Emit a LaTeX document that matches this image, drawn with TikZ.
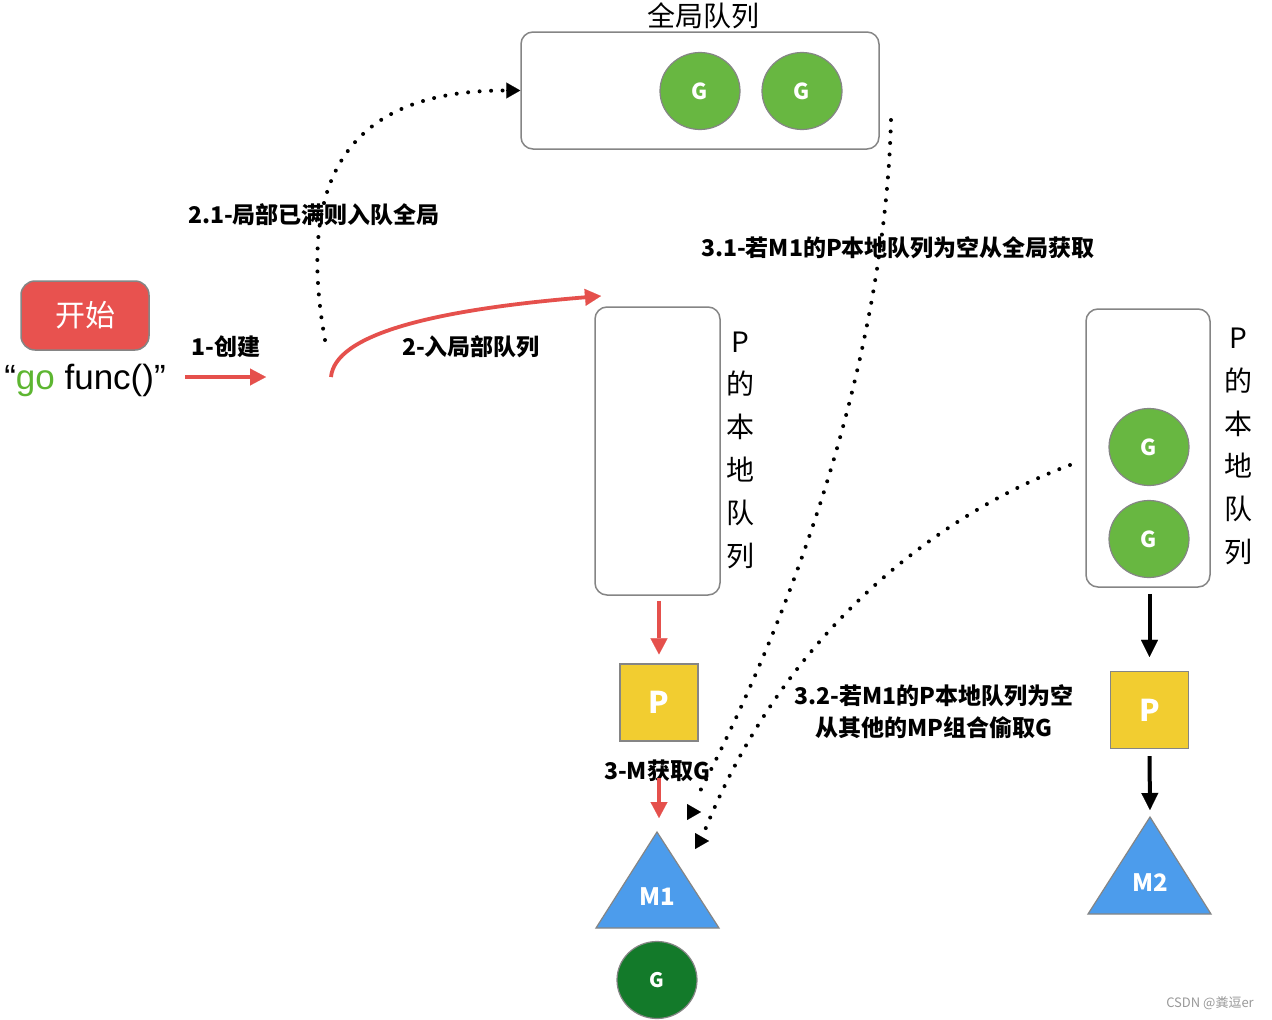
\documentclass[tikz,border=0pt]{standalone}
\usepackage{fontspec}
\setmainfont{Noto Sans CJK SC}
\newfontfamily\gofont{Liberation Sans}
\usetikzlibrary{arrows.meta,shapes.geometric}
\definecolor{btnred}{HTML}{E8524F}
\definecolor{arrred}{HTML}{E5504C}
\definecolor{ggreen}{HTML}{68B741}
\definecolor{dgreen}{HTML}{137A2A}
\definecolor{pyellow}{HTML}{F2CD30}
\definecolor{mblue}{HTML}{4C9CEC}
\definecolor{bordergray}{HTML}{858585}
\definecolor{gogreen}{HTML}{5DB631}
\begin{document}
\begin{tikzpicture}[x=1pt,y=-1pt,
  box/.style={draw=bordergray, line width=1.5pt, rounded corners=12pt, fill=white, inner sep=0pt},
  gnode/.style={ellipse, draw=bordergray, line width=1.2pt, fill=ggreen, minimum width=80pt, minimum height=77pt, inner sep=0pt, text=white, font=\fontsize{22}{26}\selectfont\bfseries},
  dgnode/.style={gnode, fill=dgreen, font=\fontsize{20}{24}\selectfont\bfseries},
  pnode/.style={draw=bordergray, line width=1.2pt, fill=pyellow, minimum width=78pt, minimum height=77pt, inner sep=0pt, text=white, font=\fontsize{30}{34}\selectfont\bfseries},
  mtri/.style={draw=bordergray, line width=1.2pt, fill=mblue, line join=miter},
  mlabel/.style={text=white, inner sep=0pt, font=\fontsize{24}{28}\selectfont\bfseries},
  lbl/.style={inner sep=0pt, font=\fontsize{23}{27}\selectfont\bfseries},
  vlbl/.style={inner sep=0pt, align=center, font=\fontsize{28}{42.8}\selectfont},
  redarrow/.style={draw=arrred, line width=3.8pt, -{Triangle[length=16pt,width=17pt,line width=0.1pt]}},
  blkarrow/.style={draw=black, line width=4pt, -{Triangle[length=17pt,width=17pt,line width=0.1pt]}},
  dotline/.style={draw=black, line width=4pt, line cap=round, dash pattern=on 0pt off 11.5pt},
  dottip/.style={draw=black, line width=0.1pt, -{Triangle[length=14pt,width=16pt,line width=0.1pt]}},
  startbtn/.style={draw=bordergray, line width=1.5pt, fill=btnred, rounded corners=14pt, minimum width=128pt, minimum height=69pt, inner sep=0pt, text=white, font=\fontsize{30}{34}\selectfont}
]
\useasboundingbox[fill=white] (0,0) rectangle (1272,1020);

% start button and go func
\node[startbtn] (start) at (85,315.5) {开始};
\node[inner sep=0pt] (go) at (85,380) {\gofont\fontsize{35}{40}\selectfont “{\color{gogreen}go} func()”};

% global queue
\node[box, minimum width=358pt, minimum height=117pt] (gq) at (700,90.5) {};
\node[inner sep=0pt, font=\fontsize{28}{32}\selectfont] (gqt) at (703,16) {全局队列};
\node[gnode] (g1) at (700,91) {G};
\node[gnode] (g2) at (802,91) {G};

% left local queue
\node[box, minimum width=125pt, minimum height=288pt] (lq) at (657.5,451) {};
\node[vlbl] (lqt) at (740,450) {P\\的\\本\\地\\队\\列};
\node[pnode] (p1) at (659,702.5) {P};
\draw[mtri] (596,928) -- (657,832) -- (719,928) -- cycle;
\coordinate (m1top) at (657,832);
\node[mlabel] (m1) at (657,897) {M1};
\node[dgnode] (g5) at (657,980) {G};

% right local queue
\node[box, minimum width=124pt, minimum height=278pt] (rq) at (1148,448) {};
\node[vlbl] (rqt) at (1238,446.5) {P\\的\\本\\地\\队\\列};
\node[gnode] (g3) at (1149,447) {G};
\node[gnode] (g4) at (1149,539) {G};
\node[pnode] (p2) at (1149.5,710) {P};
\draw[mtri] (1088,914) -- (1150,817) -- (1211,914) -- cycle;
\coordinate (m2top) at (1150,817);
\node[mlabel] (m2) at (1150,883) {M2};

% labels
\node[lbl] (l1) at (226,347) {1-创建};
\node[lbl] (l2) at (471,347) {2-入局部队列};
\node[lbl] (l21) at (314,215) {2.1-局部已满则入队全局};
\node[lbl] (l31) at (898,248) {3.1-若M1的P本地队列为空从全局获取};
\node[lbl, align=center, font=\fontsize{23}{32}\selectfont\bfseries] (l32) at (934,712) {3.2-若M1的P本地队列为空\\从其他的MP组合偷取G};
\node[lbl] (l3) at (657,771) {3-M获取G};
\node[inner sep=0pt, text=gray!80, font=\fontsize{13}{15}\selectfont] (wm) at (1210,1003) {CSDN @粪逗er};

% red arrows
\coordinate (a1s) at (185,377);
\coordinate (a1e) at (266,377);
\draw[redarrow] (a1s) -- (a1e);
\coordinate (a2s) at (331,377);
\coordinate (a2e) at (601,296);
\draw[redarrow] (a2s) .. controls (335,335) and (430,310) .. (a2e);
\draw[redarrow, shorten <=5pt, shorten >=9pt] (lq.south -| p1.north) -- (p1.north);
\coordinate (a3s) at (659,778);
\draw[redarrow, shorten >=14pt] (a3s) -- (a3s |- m1top);

% black arrows
\draw[blkarrow, shorten <=6pt, shorten >=14pt] (rq.south -| p2.north) -- (p2.north);
\draw[blkarrow, shorten <=7pt, shorten >=7pt] (p2.south) -- (m2top);

% dotted connectors
\coordinate (d21s) at (325,340);
\draw[dotline] (d21s) .. controls (300,200) and (330,90) .. ([xshift=-14pt]gq.west);
\draw[dottip] ([xshift=-14pt]gq.west) -- (gq.west);

\coordinate (d31s) at (891,120);
\coordinate (d31e) at (697,797);
\coordinate (t31a) at (687,812);
\coordinate (t31b) at (701,812);
\draw[dotline] (d31s) .. controls (885,350) and (800,600) .. (d31e);
\draw[dottip] (t31a) -- (t31b);

\coordinate (d32s) at (1070,465);
\coordinate (d32e) at (705,830);
\coordinate (t32a) at (695,841);
\coordinate (t32b) at (709,841);
\draw[dotline] (d32s) .. controls (950,510) and (790,620) .. (d32e);
\draw[dottip] (t32a) -- (t32b);
\end{tikzpicture}
\end{document}
